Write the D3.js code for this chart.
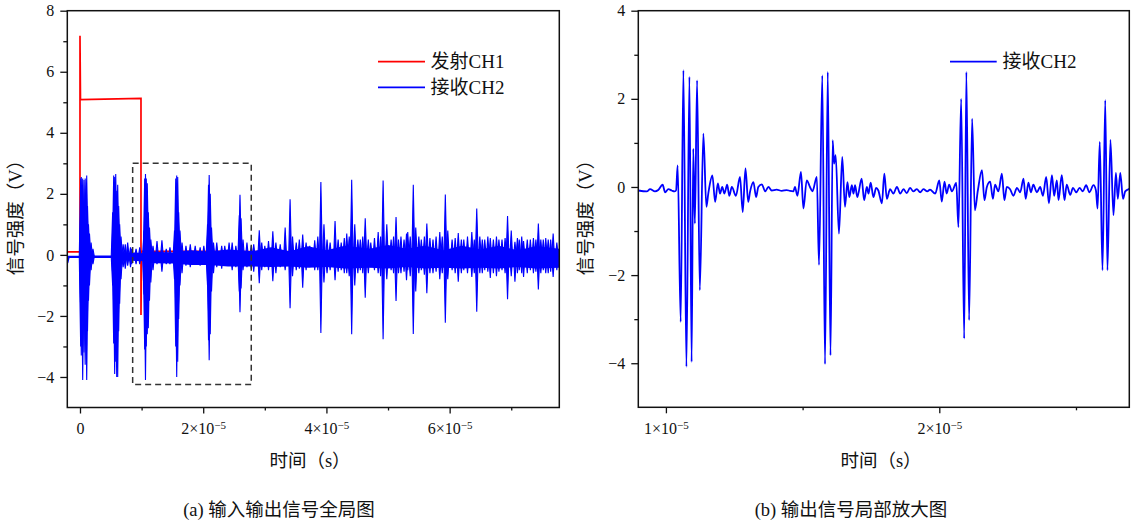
<!DOCTYPE html>
<html>
<head>
<meta charset="utf-8">
<script src="https://cdn.jsdelivr.net/npm/d3@7"></script>
<style>
body { margin: 0; background: #fff; }
text { font-family: "Liberation Serif", "Noto Sans CJK SC", serif; fill: #111; }
</style>
</head>
<body>
<div id="chart"></div>
<script>
// all times are in units of 1e-5 s, values in V

// (a) transmit pulse CH1
var ch1Points = [[-0.21, 0.1], [0, 0.1], [0, 7.18], [0.008, 5.09], [0.99, 5.13],
    [0.99, -1.97], [1.0, 0.12], [7.78, 0.08]];

// (a) receive CH2: dense noise band around zero [t, upper, lower]
var ch2Band = [[-0.21, -0.03, -0.1], [-0.19, -0.03, -0.28], [-0.17, -0.03, -0.1], [0.0, -0.03, -0.1],
    [0.02, 0.2, -0.3], [0.15, 0.2, -0.3], [0.2, -0.02, -0.1], [0.52, -0.02, -0.1], [0.54, 0.2, -0.3],
    [0.7, 0.05, -0.17], [0.9, 0.08, -0.2], [1.0, 0.05, -0.2], [1.2, 0.1, -0.27], [1.5, 0.08, -0.28],
    [1.8, 0.15, -0.33], [2.1, 0.1, -0.33], [2.4, 0.18, -0.38], [2.8, 0.12, -0.38], [3.1, 0.25, -0.4],
    [3.4, 0.12, -0.38], [3.7, 0.28, -0.42], [4.0, 0.15, -0.4], [4.3, 0.3, -0.45], [4.7, 0.2, -0.42],
    [5.0, 0.32, -0.45], [5.3, 0.2, -0.4], [5.6, 0.3, -0.45], [5.9, 0.15, -0.42], [6.2, 0.3, -0.45],
    [6.5, 0.18, -0.42], [6.8, 0.3, -0.45], [7.1, 0.15, -0.4], [7.4, 0.28, -0.45], [7.78, 0.2, -0.42]];

// (a) receive CH2: spikes (min/max envelope) [t, high, low]
var ch2Spikes = [
    // echo 1
    [0.011, 2.5, -3.0], [0.021, 2.55, -3.3], [0.044, 2.5, -4.1], [0.065, 2.45, -3.2], [0.084, 2.5, -3.6],
    [0.109, 2.6, -4.1], [0.122, 1.6, -2.5], [0.138, 1.0, -1.5], [0.154, 0.7, -1.0], [0.18, 0.4, -0.5], [0.21, 0.2, -0.3],
    // echo 2
    [0.53, 1.4, -1.0], [0.547, 2.6, -2.9], [0.563, 2.55, -3.9], [0.58, 2.65, -3.5], [0.596, 2.1, -4.0],
    [0.612, 2.3, -4.0], [0.628, 1.6, -2.5], [0.644, 1.0, -1.6], [0.666, 0.6, -0.8], [0.70, 0.35, -0.4],
    [0.735, 0.35, -0.45], [0.774, 0.4, -0.35], [0.82, 0.25, -0.4], [0.84, 0.2, -0.3], [0.91, 0.2, -0.3], [0.97, 0.25, -0.3],
    // echo 3
    [1.039, 0.8, -1.3], [1.05, 2.5, -3.1], [1.063, 2.65, -4.1], [1.076, 2.5, -3.0], [1.092, 2.35, -2.6],
    [1.109, 1.4, -2.4], [1.128, 0.9, -1.5], [1.15, 0.5, -0.9], [1.185, 0.3, -0.5], [1.25, 0.45, -0.3],
    [1.33, 0.48, -0.55], [1.40, 0.2, -0.3], [1.46, 0.25, -0.3],
    // echo 4
    [1.534, 0.8, -0.8], [1.554, 2.5, -3.0], [1.57, 2.6, -4.0], [1.586, 2.55, -3.5], [1.602, 1.4, -2.1],
    [1.623, 0.8, -1.0], [1.656, 0.4, -0.6], [1.72, 0.3, -0.35], [1.79, 0.35, -0.4], [1.87, 0.3, -0.3],
    [1.95, 0.25, -0.35], [2.01, 0.3, -0.3],
    // echo 5
    [2.07, 1.0, -1.0], [2.086, 2.3, -2.8], [2.097, 2.62, -3.45], [2.114, 2.0, -2.6], [2.135, 0.9, -1.2],
    [2.167, 0.4, -0.6], [2.22, 0.4, -0.4], [2.30, 0.3, -0.45], [2.35, 0.3, -0.3], [2.42, 0.4, -0.3],
    [2.47, 0.4, -0.5], [2.53, 0.3, -0.4],
    // echo 6
    [2.586, 1.3, -1.2], [2.597, 1.97, -1.88], [2.614, 1.2, -1.1], [2.646, 0.5, -0.5], [2.71, 0.4, -0.4],
    [2.78, 0.3, -0.45], [2.82, 0.35, -0.55],
    // later echoes
    [2.91, 0.81, -0.93], [2.95, 0.4, -0.5], [3.0, 0.3, -0.4], [3.06, 0.45, -0.5], [3.13, 0.77, -0.86],
    [3.18, 0.4, -0.6], [3.25, 0.35, -0.4], [3.33, 0.9, -0.5], [3.41, 1.82, -1.75], [3.45, 0.6, -0.7],
    [3.51, 0.4, -0.5], [3.56, 0.5, -0.45], [3.615, 0.67, -1.08], [3.67, 0.4, -0.5], [3.73, 0.3, -0.4],
    [3.81, 0.48, -0.5], [3.86, 0.6, -0.5], [3.91, 2.39, -2.56], [3.96, 1.0, -0.9], [4.01, 0.5, -0.6],
    [4.06, 0.4, -0.5], [4.14, 1.11, -0.83], [4.19, 0.5, -0.55], [4.24, 0.4, -0.5], [4.29, 0.55, -0.6],
    [4.33, 0.7, -0.6], [4.37, 0.6, -0.7], [4.41, 2.46, -2.6], [4.46, 1.0, -1.0], [4.51, 0.5, -0.6],
    [4.55, 0.5, -0.5], [4.59, 0.6, -0.6], [4.63, 1.2, -1.4], [4.68, 0.5, -0.6], [4.72, 0.4, -0.4],
    [4.78, 0.55, -0.5], [4.84, 0.75, -0.6], [4.88, 0.6, -0.7], [4.92, 2.44, -2.76], [4.98, 1.0, -0.8],
    [5.05, 0.5, -0.5], [5.09, 0.6, -0.6], [5.13, 1.24, -1.51], [5.17, 0.5, -0.6], [5.21, 0.6, -0.6],
    [5.26, 0.5, -0.55], [5.30, 0.7, -0.83], [5.32, 0.75, -0.5], [5.36, 0.6, -0.7], [5.41, 2.3, -2.59],
    [5.45, 0.9, -1.2], [5.50, 0.6, -0.6], [5.54, 0.5, -0.5], [5.59, 0.6, -0.65], [5.63, 1.03, -1.26],
    [5.68, 0.55, -0.6], [5.73, 0.5, -0.6], [5.78, 0.6, -0.55], [5.84, 0.75, -0.8], [5.88, 0.6, -0.6],
    [5.93, 1.98, -2.22], [5.97, 0.8, -0.8], [6.04, 0.5, -0.5], [6.09, 0.55, -0.6], [6.14, 0.72, -0.88],
    [6.19, 0.5, -0.6], [6.23, 0.5, -0.5], [6.29, 0.6, -0.6], [6.36, 0.75, -0.72], [6.40, 0.5, -0.6],
    [6.44, 1.52, -1.86], [6.49, 0.6, -0.6], [6.53, 0.5, -0.6], [6.57, 0.5, -0.5], [6.62, 0.6, -0.55],
    [6.66, 0.55, -0.76], [6.71, 0.5, -0.6], [6.76, 0.6, -0.7], [6.80, 0.5, -0.55], [6.85, 0.5, -0.5],
    [6.90, 0.55, -0.6], [6.94, 1.27, -1.45], [7.0, 0.8, -0.7], [7.06, 0.43, -0.88], [7.10, 0.55, -0.6],
    [7.13, 0.5, -0.5], [7.17, 0.6, -0.6], [7.2, 0.45, -0.72], [7.26, 0.5, -0.6], [7.31, 0.5, -0.5],
    [7.36, 0.55, -0.6], [7.40, 0.5, -0.55], [7.44, 1.03, -1.13], [7.48, 0.5, -0.6], [7.52, 0.5, -0.5],
    [7.56, 0.55, -0.6], [7.6, 0.5, -0.6], [7.64, 0.5, -0.55], [7.68, 0.7, -0.72], [7.74, 0.4, -0.5]
];

// (b) zoomed CH2 waveform [t, v]
var zoomWave = [[0.899, -0.08], [0.930, -0.1], [0.942, -0.05], [0.960, -0.1], [0.972, -0.07], [0.988, 0.05],
    [0.997, -0.12], [1.009, -0.05], [1.021, -0.08], [1.031, -0.1], [1.037, -0.08], [1.043, 0.49],
    [1.054, -3.06], [1.064, 2.65], [1.075, -4.08], [1.086, 2.5], [1.094, -3.97], [1.100, 0.87],
    [1.106, -0.83], [1.114, 2.42], [1.124, -2.34], [1.137, 1.21], [1.148, -0.45], [1.155, -0.15],
    [1.170, 0.26], [1.180, -0.34], [1.190, 0.08], [1.198, -0.15], [1.206, 0.0], [1.214, -0.15],
    [1.224, 0.05], [1.232, -0.2], [1.241, 0.0], [1.256, -0.2], [1.271, 0.23], [1.281, -0.57],
    [1.291, 0.42], [1.301, -0.34], [1.308, -0.1], [1.320, 0.11], [1.330, -0.23], [1.338, 0.0],
    [1.351, 0.06], [1.363, -0.1], [1.375, 0.0], [1.387, -0.08], [1.405, -0.06], [1.424, -0.09],
    [1.442, -0.07], [1.454, -0.09], [1.466, -0.1], [1.472, 0.0], [1.481, -0.2], [1.494, 0.34],
    [1.503, -0.49], [1.515, 0.15], [1.527, 0.0], [1.536, -0.1], [1.552, 0.23], [1.560, -1.77],
    [1.572, 2.53], [1.582, -4.02], [1.592, 2.61], [1.602, -3.82], [1.610, 1.06], [1.615, 0.53],
    [1.621, 0.72], [1.633, -1.06], [1.645, 0.68], [1.655, -0.45], [1.664, 0.11], [1.671, -0.23],
    [1.680, 0.04], [1.686, -0.15], [1.692, 0.04], [1.700, -0.23], [1.716, 0.19], [1.725, -0.3],
    [1.735, 0.0], [1.741, -0.15], [1.749, 0.1], [1.759, -0.23], [1.769, -0.02], [1.777, -0.08],
    [1.790, -0.37], [1.799, 0.3], [1.808, -0.27], [1.820, -0.05], [1.832, -0.15], [1.845, 0.0],
    [1.857, -0.15], [1.869, -0.05], [1.881, -0.14], [1.893, -0.02], [1.905, -0.1], [1.918, -0.05],
    [1.930, -0.12], [1.942, -0.05], [1.956, -0.1], [1.966, -0.06], [1.985, -0.15], [2.000, 0.15],
    [2.009, -0.33], [2.019, 0.12], [2.027, -0.15], [2.036, 0.05], [2.046, -0.1], [2.062, 0.09],
    [2.070, -0.91], [2.080, 2.0], [2.091, -3.44], [2.099, 2.61], [2.109, -3.02], [2.120, 1.55],
    [2.130, -0.53], [2.141, -0.08], [2.156, 0.38], [2.165, -0.3], [2.174, 0.0], [2.186, 0.12],
    [2.196, -0.27], [2.204, 0.05], [2.216, -0.1], [2.229, 0.3], [2.238, -0.3], [2.247, 0.0],
    [2.259, -0.05], [2.271, -0.2], [2.284, -0.02], [2.296, -0.12], [2.308, 0.19], [2.316, -0.27],
    [2.326, 0.1], [2.335, -0.12], [2.344, 0.05], [2.357, -0.12], [2.369, 0.0], [2.379, -0.2],
    [2.391, 0.23], [2.401, -0.37], [2.412, 0.27], [2.420, -0.2], [2.430, 0.15], [2.436, -0.3],
    [2.448, 0.27], [2.458, -0.3], [2.466, 0.05], [2.479, -0.18], [2.489, -0.02], [2.501, -0.12],
    [2.513, -0.02], [2.525, -0.1], [2.537, 0.04], [2.549, -0.12], [2.564, 0.04], [2.573, -0.08],
    [2.579, -0.49], [2.587, 1.02], [2.597, -1.89], [2.607, 1.97], [2.615, -1.89], [2.626, 1.07],
    [2.637, -0.64], [2.646, 0.32], [2.653, -0.27], [2.662, 0.32], [2.672, -0.27], [2.680, -0.1],
    [2.692, -0.05], [2.695, -0.04]];

// zoom window marked on (a) [t0, t1, vLow, vHigh]
var zoomBox = [0.855, 2.78, -4.25, 3.0];

// ticks (x in units of 1e-5 s)
var aTicksX = [0, 2, 4, 6], aMinorX = [1, 3, 5, 7];
var aTicksY = [-4, -2, 0, 2, 4, 6, 8], aMinorY = [-3, -1, 1, 3, 5, 7];
var bTicksX = [1, 2], bMinorX = [1.5, 2.5];
var bTicksY = [-4, -2, 0, 2, 4], bMinorY = [-3, -1, 1, 3];

var legendA = ["发射CH1", "接收CH2"];
var legendB = ["接收CH2"];
var yTitle = "信号强度（V）", xTitle = "时间（s）";
var captionA = "(a) 输入输出信号全局图", captionB = "(b) 输出信号局部放大图";

var width = 1131, height = 527;
var fontFam = '"Liberation Serif", "Noto Sans CJK SC", serif';
var svg = d3.select("#chart").append("svg")
    .attr("width", width)
    .attr("height", height);

var red = "#ff0000", blue = "#0000ff";

// set up one panel: axes, titles
function makePanel(id, xd, xr, yd, yr, ticksX, minorX, ticksY, minorY, titleYx, caption, capX, titleXc) {
    var x = d3.scaleLinear().domain(xd).range(xr);
    var y = d3.scaleLinear().domain(yd).range(yr);
    var g = svg.append("g");

    g.append("clipPath").attr("id", id)
        .append("rect")
        .attr("x", xr[0]).attr("y", yr[1])
        .attr("width", xr[1] - xr[0]).attr("height", yr[0] - yr[1]);

    // x axis major, labels like 2×10^-5
    var ax = g.append("g")
        .attr("transform", "translate(0," + yr[0] + ")")
        .call(d3.axisBottom(x).tickValues(ticksX.map(function(d) { return d * 1e-5; }))
            .tickSize(6).tickSizeOuter(0).tickPadding(9));
    ax.select(".domain").remove();
    ax.selectAll("text").each(function(d) {
        var m = Math.round(d / 1e-5 * 10) / 10;
        var t = d3.select(this).text("");
        if (m === 0) { t.text("0"); return; }
        t.append("tspan").text(m + "×10");
        t.append("tspan").attr("dy", "-0.45em").attr("font-size", 11).text("−5");
    });
    g.append("g")
        .attr("transform", "translate(0," + yr[0] + ")")
        .call(d3.axisBottom(x).tickValues(minorX.map(function(d) { return d * 1e-5; }))
            .tickSize(3).tickFormat(""))
        .select(".domain").remove();

    // y axis
    var ay = g.append("g")
        .attr("transform", "translate(" + xr[0] + ",0)")
        .call(d3.axisLeft(y).tickValues(ticksY).tickSize(7).tickSizeOuter(0).tickPadding(6));
    ay.select(".domain").remove();
    g.append("g")
        .attr("transform", "translate(" + xr[0] + ",0)")
        .call(d3.axisLeft(y).tickValues(minorY).tickSize(4).tickFormat(""))
        .select(".domain").remove();

    g.selectAll("g").attr("font-family", fontFam).attr("font-size", 16);
    g.selectAll(".tick line").attr("stroke", "#111").attr("stroke-width", 1.3);
    g.selectAll(".tick text").attr("fill", "#111");

    // titles
    g.append("text")
        .attr("x", titleXc)
        .attr("y", 467)
        .attr("text-anchor", "middle")
        .attr("font-size", 18.5)
        .text(xTitle);
    g.append("text")
        .attr("transform", "translate(" + titleYx + ",213) rotate(-90)")
        .attr("text-anchor", "middle")
        .attr("font-size", 18.5)
        .text(yTitle);
    g.append("text")
        .attr("x", capX)
        .attr("y", 516)
        .attr("text-anchor", "middle")
        .attr("font-size", 18.5)
        .text(caption);

    return {g: g, x: x, y: y, xr: xr, yr: yr};
}

function frame(p) {
    p.g.append("rect")
        .attr("x", p.xr[0]).attr("y", p.yr[1])
        .attr("width", p.xr[1] - p.xr[0]).attr("height", p.yr[0] - p.yr[1])
        .attr("fill", "none")
        .attr("stroke", "#111")
        .attr("stroke-width", 1.5);
}

// ---------- panel (a) ----------
var pa = makePanel("clipA", [-0.206e-5, 7.78e-5], [67.3, 559.3], [-5, 8], [407.5, 10.7],
    aTicksX, aMinorX, aTicksY, aMinorY, 22, captionA, 279, 310);

var xa = pa.x, ya = pa.y;
var plotA = pa.g.append("g").attr("clip-path", "url(#clipA)");

plotA.append("path")
    .datum(ch1Points)
    .attr("fill", "none")
    .attr("stroke", red)
    .attr("stroke-width", 1.7)
    .attr("d", d3.line()
        .x(function(d) { return xa(d[0] * 1e-5); })
        .y(function(d) { return ya(d[1]); }));

plotA.append("path")
    .datum(ch2Band)
    .attr("fill", blue)
    .attr("d", d3.area()
        .x(function(d) { return xa(d[0] * 1e-5); })
        .y0(function(d) { return ya(d[2]); })
        .y1(function(d) { return ya(d[1]); }));

plotA.selectAll(".spike")
    .data(ch2Spikes)
    .enter().append("path")
    .attr("class", "spike")
    .attr("fill", blue)
    .attr("stroke", blue)
    .attr("stroke-width", 1.1)
    .attr("d", function(d) {
        var cx = xa(d[0] * 1e-5), w = 1.4, y0 = ya(-0.05);
        return "M" + (cx - w) + "," + y0 + "L" + cx + "," + ya(d[1]) + "L" + (cx + w) + "," + y0 +
            "L" + cx + "," + ya(d[2]) + "Z";
    });

// dashed zoom box
pa.g.append("rect")
    .attr("x", xa(zoomBox[0] * 1e-5))
    .attr("y", ya(zoomBox[3]))
    .attr("width", xa(zoomBox[1] * 1e-5) - xa(zoomBox[0] * 1e-5))
    .attr("height", ya(zoomBox[2]) - ya(zoomBox[3]))
    .attr("fill", "none")
    .attr("stroke", "#333")
    .attr("stroke-width", 1.5)
    .attr("stroke-dasharray", "6,4");

frame(pa);

// legend (a)
legendA.forEach(function(name, i) {
    var ly = 61.7 + i * 25.6;
    pa.g.append("line")
        .attr("x1", 378).attr("x2", 425)
        .attr("y1", ly).attr("y2", ly)
        .attr("stroke", i ? blue : red)
        .attr("stroke-width", 1.7);
    pa.g.append("text")
        .attr("x", 430.5).attr("y", ly + 6.5)
        .attr("font-size", 19)
        .text(name);
});

// ---------- panel (b) ----------
var pb = makePanel("clipB", [0.899e-5, 2.695e-5], [638.3, 1129.3], [-5, 4], [407.3, 10.7],
    bTicksX, bMinorX, bTicksY, bMinorY, 592, captionB, 851, 881);

var xb = pb.x, yb = pb.y;
pb.g.append("g").attr("clip-path", "url(#clipB)")
    .append("path")
    .datum(zoomWave)
    .attr("fill", "none")
    .attr("stroke", blue)
    .attr("stroke-width", 1.8)
    .attr("d", d3.line()
        .curve(d3.curveMonotoneX)
        .x(function(d) { return xb(d[0] * 1e-5); })
        .y(function(d) { return yb(d[1]); }));

frame(pb);

legendB.forEach(function(name, i) {
    var ly = 61.7 + i * 25.6;
    pb.g.append("line")
        .attr("x1", 950).attr("x2", 996.7)
        .attr("y1", ly).attr("y2", ly)
        .attr("stroke", blue)
        .attr("stroke-width", 1.7);
    pb.g.append("text")
        .attr("x", 1002.5).attr("y", ly + 6.5)
        .attr("font-size", 19)
        .text(name);
});
</script>
</body>
</html>
